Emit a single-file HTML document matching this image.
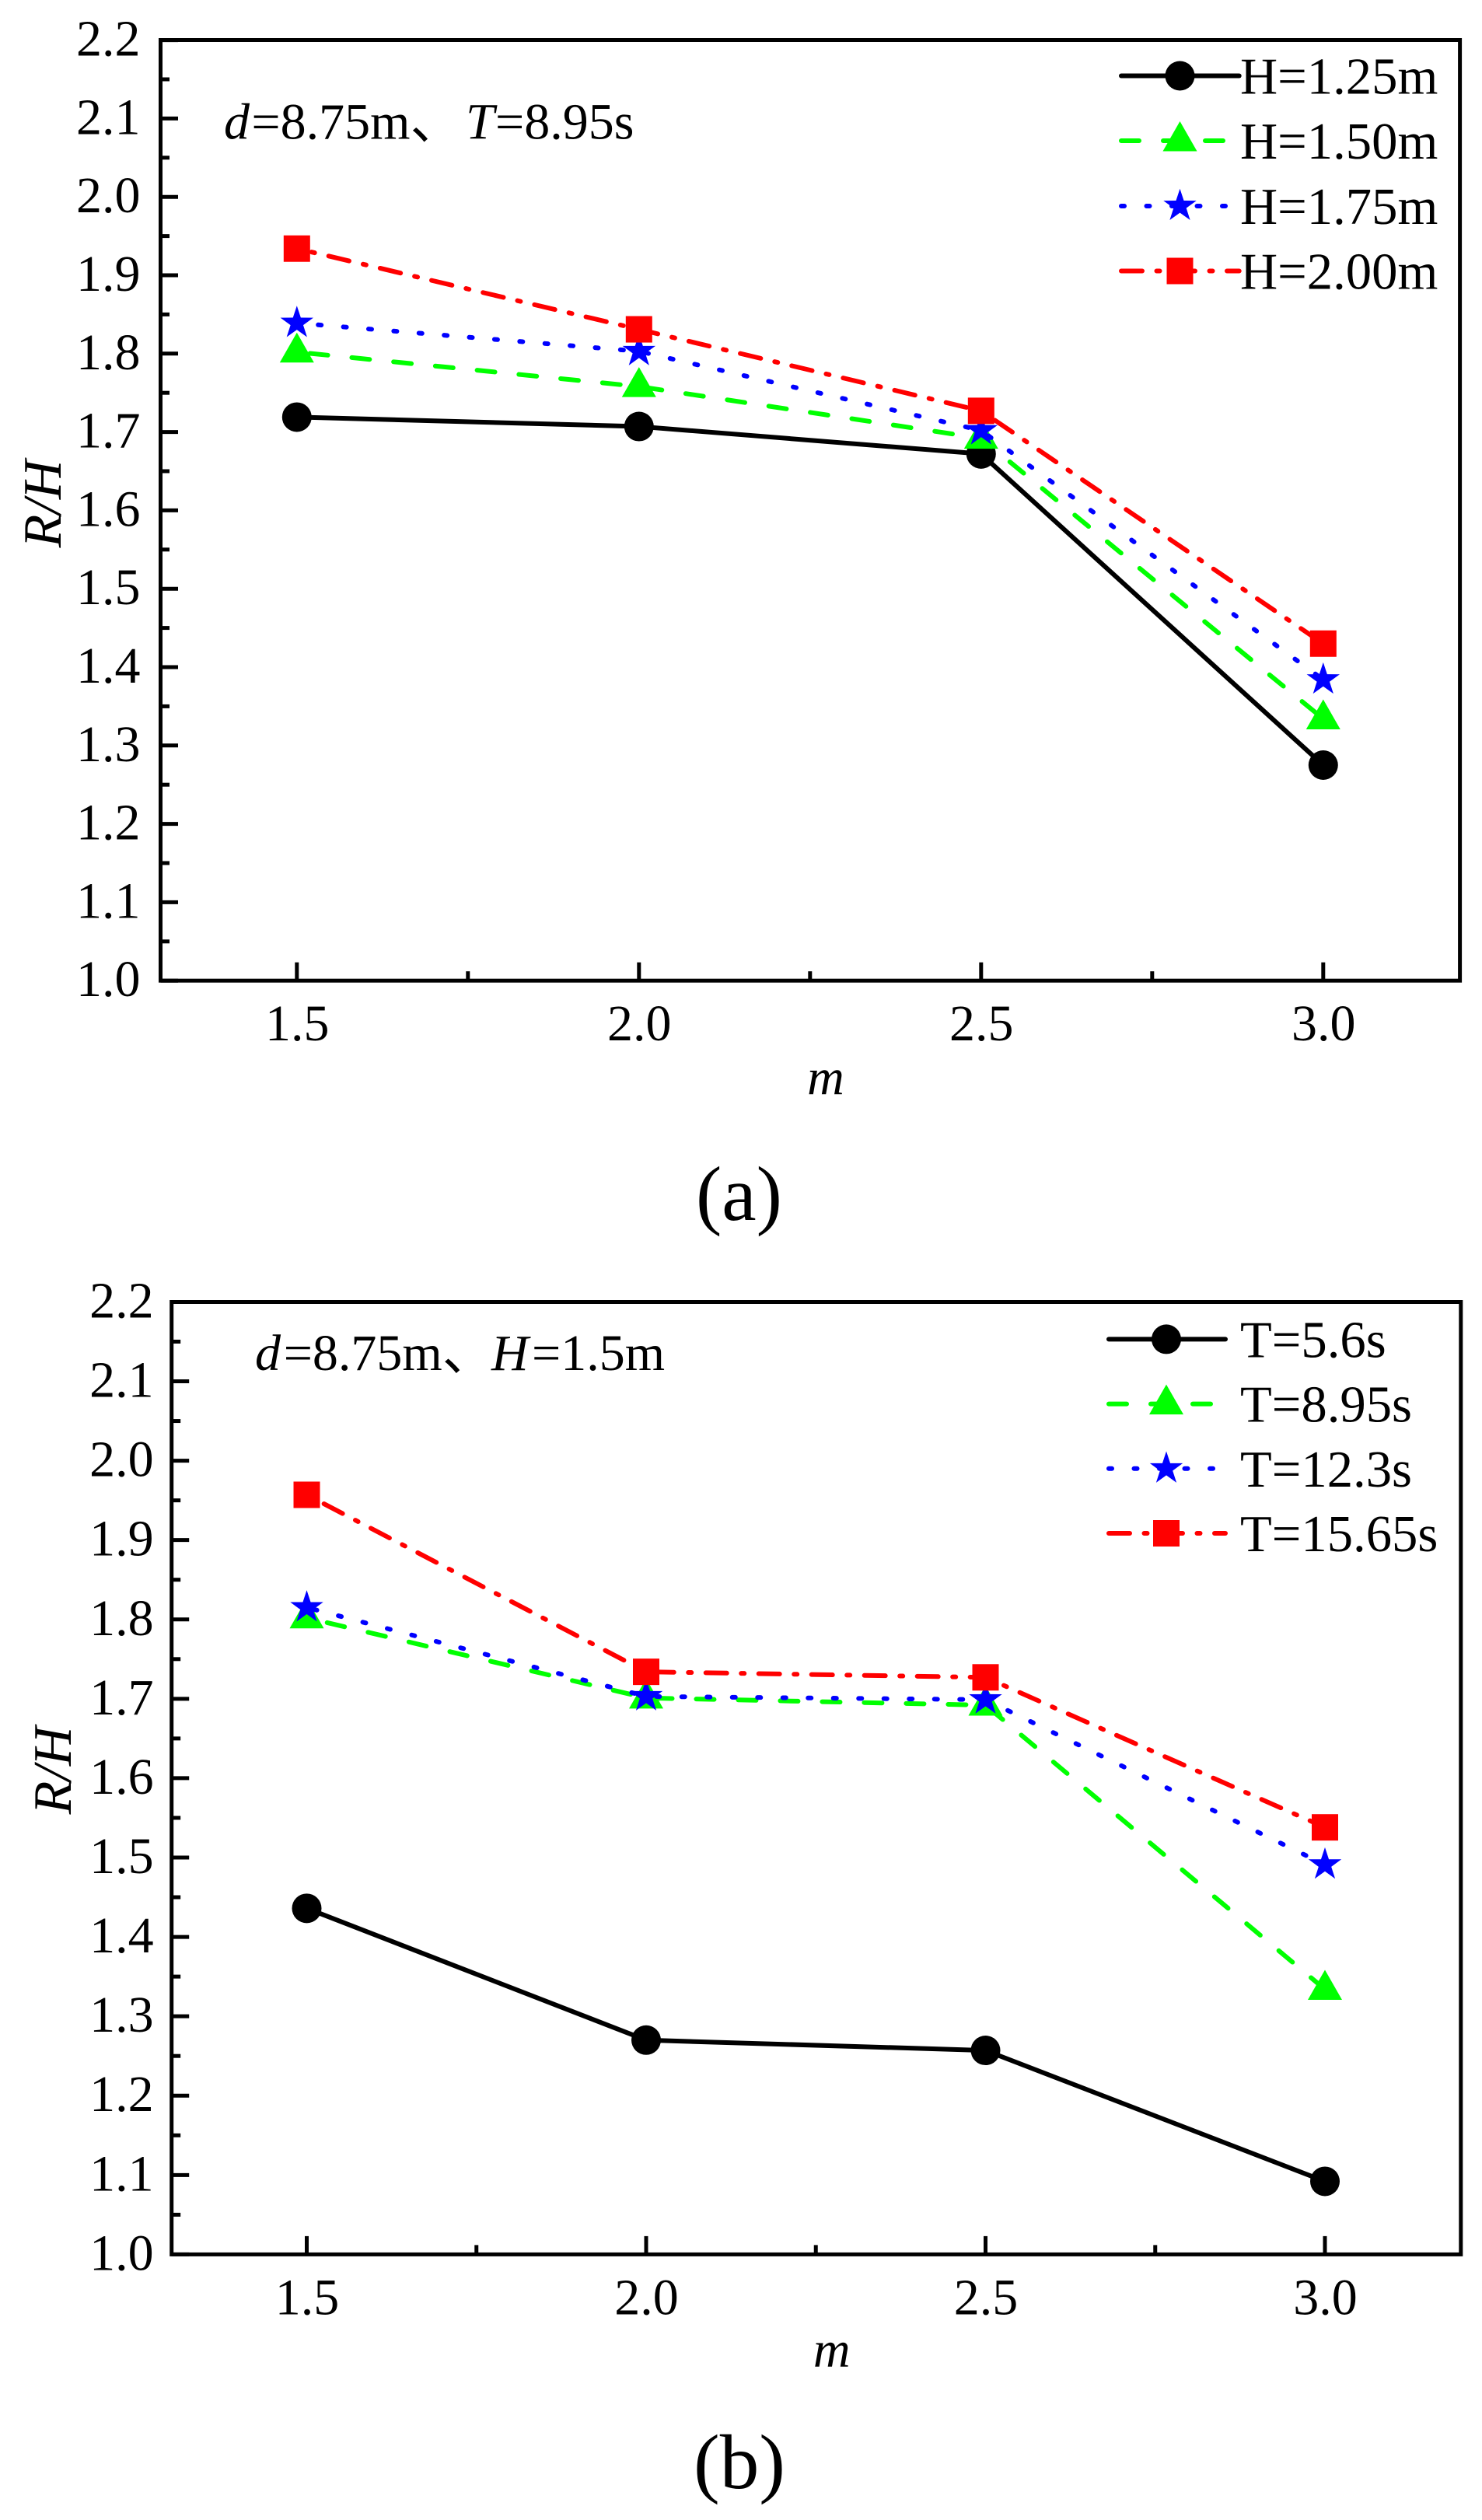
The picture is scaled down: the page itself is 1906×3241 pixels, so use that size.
<!DOCTYPE html>
<html lang="en">
<head>
<meta charset="utf-8">
<title>R/H versus m for wave height and period</title>
<style>
  html, body { margin: 0; padding: 0; background: #fff; }
  svg { display: block; }
  text { font-family: "Liberation Serif", "Noto Sans CJK SC", serif; fill: #000; }
</style>
</head>
<body>
<svg id="figure" xmlns="http://www.w3.org/2000/svg" width="1906" height="3241" viewBox="0 0 1906 3241"></svg>
<script>
// ---- chart data ----
const mCategories = [1.5, 2.0, 2.5, 3.0];
const xTickLabels = ['1.5', '2.0', '2.5', '3.0'];
const xMinorTicks = [1.75, 2.25, 2.75];
const yTickLabels = ['1.0', '1.1', '1.2', '1.3', '1.4', '1.5', '1.6', '1.7', '1.8', '1.9', '2.0', '2.1', '2.2'];
const yMinorTicks = [1.05, 1.15, 1.25, 1.35, 1.45, 1.55, 1.65, 1.75, 1.85, 1.95, 2.05, 2.15];

const panelANames = ['H=1.25m', 'H=1.50m', 'H=1.75m', 'H=2.00m'];
const panelAH125 = [1.719, 1.707, 1.672, 1.275];
const panelAH150 = [1.802, 1.758, 1.692, 1.334];
const panelAH175 = [1.839, 1.803, 1.702, 1.384];
const panelAH200 = [1.934, 1.831, 1.727, 1.430];

const panelBNames = ['T=5.6s', 'T=8.95s', 'T=12.3s', 'T=15.65s'];
const panelBT560 = [1.436, 1.270, 1.257, 1.092];
const panelBT895 = [1.802, 1.701, 1.692, 1.334];
const panelBT123 = [1.815, 1.703, 1.699, 1.491];
const panelBT1565 = [1.957, 1.734, 1.727, 1.538];

// ---- drawing ----
const svg = document.getElementById('figure');
const NS = 'http://www.w3.org/2000/svg';
const colors = ['#000000', '#00ff00', '#0000ff', '#ff0000'];
const dashes = ['', '23 31', '4 28.5', '27 18.5 4 18.5'];
const shapes = ['circle', 'triangle', 'star', 'square'];

function mk(tag, attrs, parent) {
  const el = document.createElementNS(NS, tag);
  for (const k in attrs) el.setAttribute(k, attrs[k]);
  parent.appendChild(el);
  return el;
}

function marker(shape, cx, cy, color, parent) {
  if (shape === 'circle') {
    return mk('circle', { cx: cx, cy: cy, r: 19, fill: color }, parent);
  }
  if (shape === 'square') {
    return mk('rect', { x: cx - 17, y: cy - 17, width: 34, height: 34, fill: color }, parent);
  }
  if (shape === 'triangle') {
    const pts = [[cx, cy - 25], [cx + 22, cy + 13.5], [cx - 22, cy + 13.5]];
    return mk('polygon', { points: pts.map(p => p.join(',')).join(' '), fill: color }, parent);
  }
  const R = 22.3, r = 8.6, pts = [];
  for (let i = 0; i < 10; i++) {
    const a = -Math.PI / 2 + i * Math.PI / 5;
    const rad = i % 2 ? r : R;
    pts.push((cx + rad * Math.cos(a)).toFixed(2) + ',' + (cy + rad * Math.sin(a)).toFixed(2));
  }
  return mk('polygon', { points: pts.join(' '), fill: color }, parent);
}

function drawPanel(cfg) {
  const g = mk('g', {}, svg);
  
  

  const xAt = v => cfg.x15 + (v - 1.5) * cfg.xScale;
  const yAt = v => cfg.bottom - (v - 1.0) * cfg.yScale;

  // frame
  const frame = mk('rect', { x: cfg.left, y: cfg.top, width: cfg.right - cfg.left, height: cfg.bottom - cfg.top, fill: 'none', stroke: '#000', 'stroke-width': 5 }, g);
  
  

  // y ticks
  yTickLabels.forEach(function (label) {
    const v = parseFloat(label);
    const tick = mk('line', { x1: cfg.left, x2: cfg.left + 22.5, y1: yAt(v), y2: yAt(v), stroke: '#000', 'stroke-width': 5 }, g);
    
    
    const t = mk('text', { x: cfg.yLabelRight, y: yAt(v) + 20, 'text-anchor': 'end', 'font-size': 66 }, g);
    t.textContent = label;
    
    
  });
  yMinorTicks.forEach(function (v) {
    const tick = mk('line', { x1: cfg.left, x2: cfg.left + 11.5, y1: yAt(v), y2: yAt(v), stroke: '#000', 'stroke-width': 5 }, g);
    
    
  });

  // x ticks
  mCategories.forEach(function (v, i) {
    const tick = mk('line', { x1: xAt(v), x2: xAt(v), y1: cfg.bottom, y2: cfg.bottom - 23.5, stroke: '#000', 'stroke-width': 5 }, g);
    
    
    const t = mk('text', { x: xAt(v) + 0.5, y: cfg.xLabelBase, 'text-anchor': 'middle', 'font-size': 66 }, g);
    t.textContent = xTickLabels[i];
    
    
  });
  xMinorTicks.forEach(function (v) {
    const tick = mk('line', { x1: xAt(v), x2: xAt(v), y1: cfg.bottom, y2: cfg.bottom - 12, stroke: '#000', 'stroke-width': 5 }, g);
    
    
  });

  // axis titles
  const xTitle = mk('text', { x: cfg.xTitleX, y: cfg.xTitleY, 'text-anchor': 'middle', 'font-size': 66, 'font-style': 'italic' }, g);
  xTitle.textContent = 'm';
  
  

  const yTitle = mk('text', { x: 0, y: 0, 'text-anchor': 'middle', 'font-size': 70, 'font-style': 'italic', transform: 'translate(' + cfg.yTitleX + ' ' + cfg.yTitleY + ') rotate(-90)' }, g);
  yTitle.textContent = 'R/H';
  
  

  // annotation
  const note = mk('text', { y: cfg.noteY, 'font-size': 66 }, g);
  
  
  cfg.note.forEach(function (part) {
    const s = mk('tspan', { x: part[1] }, note);
    s.textContent = part[0];
    if (part[2]) s.setAttribute('font-style', 'italic');
  });

  // series
  cfg.series.forEach(function (values, i) {
    const points = mCategories.map((m, j) => xAt(m).toFixed(1) + ',' + yAt(values[j]).toFixed(1)).join(' ');
    const line = mk('polyline', { points: points, fill: 'none', stroke: colors[i], 'stroke-width': 6, 'stroke-linecap': 'round', 'stroke-linejoin': 'round' }, g);
    if (dashes[i]) {
      line.setAttribute('stroke-dasharray', dashes[i]);
      line.setAttribute('stroke-dashoffset', cfg.offsets[i]);
    }
    
    
    mCategories.forEach(function (m, j) {
      const mark = marker(shapes[i], xAt(m), yAt(values[j]), colors[i], g);
      
      
    });
  });

  // legend
  cfg.names.forEach(function (name, i) {
    const rowY = cfg.legendY[i];
    const row = mk('g', {}, g);
    
    
    const sample = mk('line', { x1: cfg.legendX1 + 3, x2: cfg.legendX2 - 3, y1: rowY, y2: rowY, stroke: colors[i], 'stroke-width': 6, 'stroke-linecap': 'round' }, row);
    if (dashes[i]) sample.setAttribute('stroke-dasharray', dashes[i]);
    
    
    const mark = marker(shapes[i], cfg.legendMarkX, rowY, colors[i], row);
    
    
    const label = mk('text', { x: cfg.legendTextX, y: rowY + 23, 'font-size': 66.7 }, row);
    label.textContent = name;
    
    
  });

  // caption
  const cap = mk('text', { x: cfg.capX, y: cfg.capY, 'font-size': 100, textLength: cfg.capW, lengthAdjust: 'spacingAndGlyphs' }, g);
  cap.textContent = cfg.caption;
  
  
}

drawPanel({
  id: 'a', caption: '(a)', capX: 895, capY: 1569, capW: 111,
  left: 206.5, right: 1877.6, top: 51.5, bottom: 1261.2,
  x15: 381.8, xScale: 880, yScale: 1008,
  yLabelRight: 180.5, xLabelBase: 1338,
  xTitleX: 1062, xTitleY: 1407, yTitleX: 78, yTitleY: 648,
  noteY: 178.6,
  note: [['d', 288, true], ['=8.75m、', 323.4, false], ['T', 599, true], ['=8.95s', 637, false]],
  names: panelANames,
  series: [panelAH125, panelAH150, panelAH175, panelAH200],
  offsets: [0, 37, 5, 26],
  legendX1: 1439, legendX2: 1596.7, legendMarkX: 1517.5, legendTextX: 1595,
  legendY: [97.5, 181, 265, 348.5]
});

drawPanel({
  id: 'b', caption: '(b)', capX: 892, capY: 3200, capW: 118,
  left: 220.7, right: 1878.8, top: 1674.5, bottom: 2899.4,
  x15: 394.5, xScale: 873, yScale: 1020.8,
  yLabelRight: 197.6, xLabelBase: 2976.6,
  xTitleX: 1069.7, xTitleY: 3043.6, yTitleX: 91, yTitleY: 2277,
  noteY: 1762,
  note: [['d', 328, true], ['=8.75m、', 364.7, false], ['H', 632, true], ['=1.5m', 684, false]],
  names: panelBNames,
  series: [panelBT560, panelBT895, panelBT123, panelBT1565],
  offsets: [0, 27, 23, 43],
  legendX1: 1423, legendX2: 1579, legendMarkX: 1500, legendTextX: 1595,
  legendY: [1722.4, 1805.6, 1888.8, 1972]
});
</script>
</body>
</html>
